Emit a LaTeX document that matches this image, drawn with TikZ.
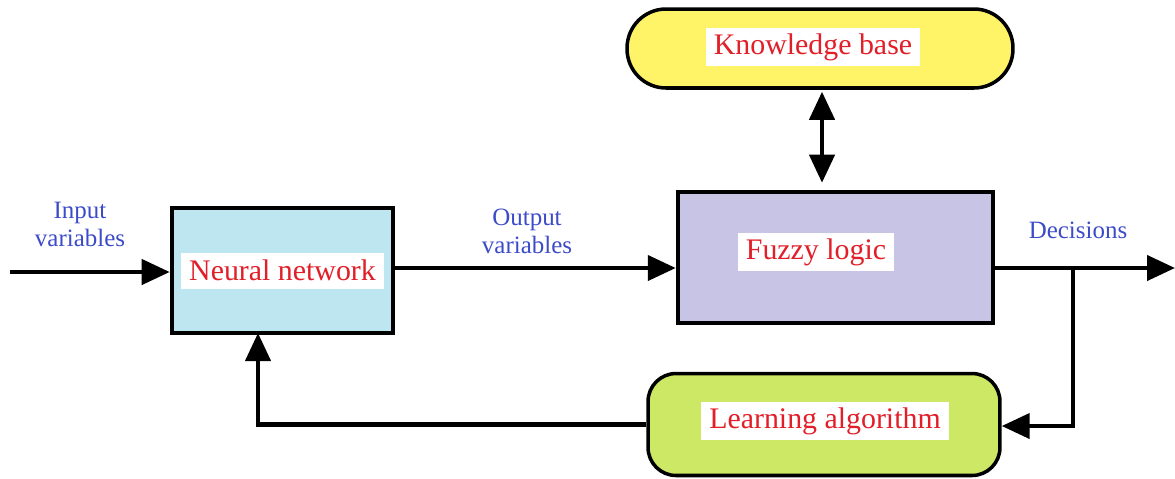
\documentclass[tikz,border=0pt]{standalone}
\usepackage{fontspec}
\setmainfont{Liberation Serif}
\usetikzlibrary{arrows.meta}
\definecolor{nnblue}{RGB}{190,230,240}
\definecolor{fzlav}{RGB}{200,196,230}
\definecolor{kbyel}{RGB}{255,244,104}
\definecolor{lagreen}{RGB}{204,232,101}
\definecolor{tagred}{RGB}{226,30,40}
\definecolor{varblue}{RGB}{60,75,200}
\tikzset{
  block/.style={draw=black,line width=2.6pt,inner sep=0pt},
  tag/.style={fill=white,text=tagred,font=\fontsize{17}{17}\selectfont,
    inner xsep=0.16cm,minimum height=0.72cm},
  varlabel/.style={text=varblue,font=\fontsize{14.2}{16}\selectfont,align=center},
  bigtip/.tip={Triangle[length=0.56cm,width=0.5cm]},
  flow/.style={line width=2.4pt,-bigtip}
}
\begin{document}
\begin{tikzpicture}[x=0.02cm,y=-0.02cm]
  \useasboundingbox (0,0) rectangle (1175,478);
  % blocks
  \node[block,fill=nnblue,minimum width=4.42cm,minimum height=2.5cm] (nn) at (282.5,270.5) {};
  \node[block,fill=fzlav,minimum width=6.3cm,minimum height=2.62cm] (fz) at (835.5,257.5) {};
  \node[block,line width=2pt,fill=kbyel,rounded corners=0.78cm,minimum width=7.72cm,minimum height=1.58cm] (kb) at (820,48.5) {};
  \node[block,line width=2pt,fill=lagreen,rounded corners=0.56cm,minimum width=7.04cm,minimum height=2.04cm] (la) at (824,424.5) {};
  \node[tag] at (nn) {Neural network};
  \node[tag] at (816,252) {Fuzzy logic};
  \node[tag] at (813,47) {Knowledge base};
  \node[tag] at (825,421) {Learning algorithm};
  % labels
  \node[varlabel] (inlab) at (80,224) {Input\\variables};
  \node[varlabel] (outlab) at (527,231) {Output\\variables};
  \node[varlabel] (declab) at (1078,230) {Decisions};
  % connectors
  \coordinate (in) at (10,272);
  \coordinate (dec) at (1175,268);
  \coordinate (br) at (1073,268);
  \coordinate (kbf) at (822,0);
  \coordinate (fb) at (258,333);
  \draw[flow] (in) -- (in -| nn.west);
  \draw[flow] (nn.east |- dec) -- (fz.west |- dec);
  \draw[flow] (fz.east |- dec) -- (dec);
  \draw[line width=2.4pt,bigtip-bigtip] ([yshift=-0.04cm]kb.south -| kbf) -- ([yshift=0.14cm]fz.north -| kbf);
  \draw[flow] (br) |- ([yshift=-0.03cm]la.east);
  \draw[flow] (la.west) -| (fb);
\end{tikzpicture}
\end{document}
